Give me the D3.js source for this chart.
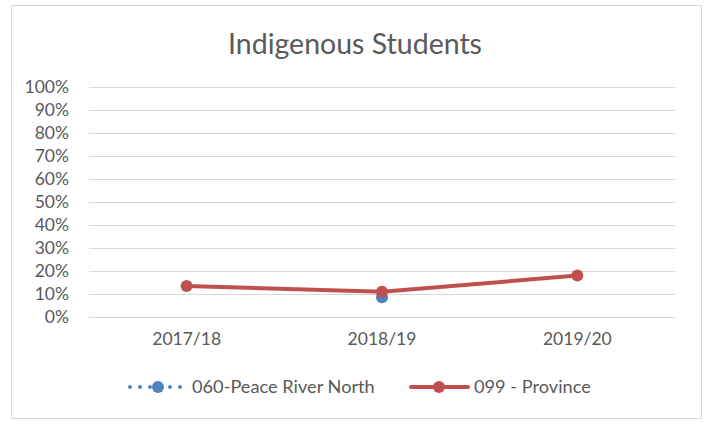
<!DOCTYPE html>
<html><head><meta charset="utf-8">
<script src="https://cdn.jsdelivr.net/npm/d3@7"></script>
<style>body{margin:0;background:#fff;} text{font-family:Lato,"Open Sans",sans-serif;}</style>
</head><body>
<svg id="c" width="705" height="422"></svg>
<script>
const categories = ["2017/18", "2018/19", "2019/20"];
const seriesNames = ["060-Peace River North", "099 - Province"];
const peaceRiverNorth = [null, 0.086, null];
const province = [0.135, 0.11, 0.18];
const yTicks = [0,0.1,0.2,0.3,0.4,0.5,0.6,0.7,0.8,0.9,1.0];
const title = "Indigenous Students";

const svg = d3.select("#c");
svg.append("rect").attr("x",11.5).attr("y",5.5).attr("width",690).attr("height",413)
  .attr("fill","#fff").attr("stroke","#d9d9d9");

const x = d3.scaleBand().domain(categories).range([89,675]);
const y = d3.scaleLinear().domain([0,1]).range([317,87]);

svg.append("text").attr("x",355).attr("y",54).attr("text-anchor","middle")
  .attr("font-size",28.5).attr("fill","#595959").text(title);

const g = svg.append("g");
g.selectAll("line.grid").data(yTicks).join("line")
  .attr("x1",89).attr("x2",675).attr("y1",d=>Math.round(y(d))+0.5).attr("y2",d=>Math.round(y(d))+0.5)
  .attr("stroke","#d9d9d9").attr("stroke-width",1);

const yAxis = d3.axisLeft(y).tickValues(yTicks).tickFormat(d3.format(".0%")).tickSize(0).tickPadding(0);
const ya = svg.append("g").attr("transform","translate(69,0)").call(yAxis);
ya.select(".domain").remove();
ya.selectAll("text").attr("font-size",17.5).attr("fill","#595959").style("font-family","Lato,sans-serif");

const xAxis = d3.axisBottom(x).tickSize(0).tickPadding(0);
const xa = svg.append("g").attr("transform","translate(0,333)").call(xAxis);
xa.select(".domain").remove();
xa.selectAll("text").attr("font-size",17.5).attr("fill","#595959").style("font-family","Lato,sans-serif");

const cx = d => x(d) + x.bandwidth()/2;
const line = d3.line().defined(d=>d[1]!=null).x(d=>cx(d[0])).y(d=>y(d[1]));

const provData = categories.map((c,i)=>[c,province[i]]);
svg.append("path").datum(provData).attr("d",line).attr("fill","none")
  .attr("stroke","#C0504D").attr("stroke-width",4).attr("stroke-linejoin","round");

const prnData = categories.map((c,i)=>[c,peaceRiverNorth[i]]);
svg.append("path").datum(prnData).attr("d",line).attr("fill","none")
  .attr("stroke","#4F81BD").attr("stroke-width",4).attr("stroke-dasharray","1,5").attr("stroke-linecap","round");
svg.selectAll("circle.prn").data(prnData.filter(d=>d[1]!=null)).join("circle")
  .attr("cx",d=>cx(d[0])).attr("cy",d=>y(d[1])).attr("r",6).attr("fill","#4F81BD");
svg.selectAll("circle.prov").data(provData).join("circle")
  .attr("cx",d=>cx(d[0])).attr("cy",d=>y(d[1])).attr("r",6).attr("fill","#C0504D");

const ly = 387;
const l1 = svg.append("g");
l1.append("line").attr("x1",130).attr("x2",184).attr("y1",ly).attr("y2",ly)
  .attr("stroke","#4F81BD").attr("stroke-width",4).attr("stroke-dasharray","0,10").attr("stroke-linecap","round");
l1.append("circle").attr("cx",158).attr("cy",ly).attr("r",6).attr("fill","#4F81BD");
l1.append("text").attr("x",192).attr("y",ly+6).attr("font-size",18.2).attr("fill","#595959").text(seriesNames[0]);
const l2 = svg.append("g");
l2.append("line").attr("x1",411).attr("x2",468).attr("y1",ly).attr("y2",ly)
  .attr("stroke","#C0504D").attr("stroke-width",4).attr("stroke-linecap","round");
l2.append("circle").attr("cx",439).attr("cy",ly).attr("r",6).attr("fill","#C0504D");
l2.append("text").attr("x",474).attr("y",ly+6).attr("font-size",18.2).attr("fill","#595959").text(seriesNames[1]);
</script>
</body></html>
